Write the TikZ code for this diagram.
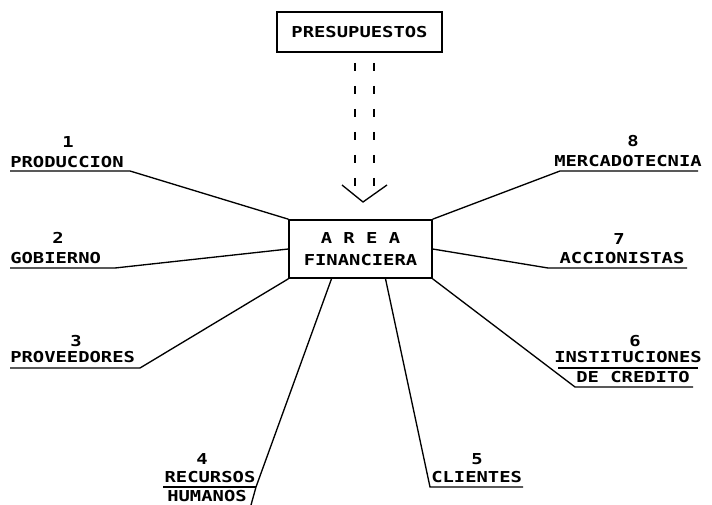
\documentclass[tikz,border=0pt]{standalone}
\usepackage{fontspec}
\newfontfamily\dotfont{DejaVu Sans Mono Bold}[FakeStretch=1.25]
\usetikzlibrary{calc}
\tikzset{
  entity/.style={font=\dotfont\fontsize{11.3}{16.5}\selectfont, inner sep=0pt},
  frame/.style={draw=black, line width=1.2pt, inner sep=0pt, align=center, font=\dotfont\fontsize{11.3}{16.5}\selectfont},
  link/.style={line width=1pt, line join=miter},
  flow/.style={line width=1pt, dash pattern=on 6pt off 11.25pt}
}
\begin{document}
\begin{tikzpicture}[x=0.75pt, y=-0.75pt]
  \useasboundingbox (0,0) rectangle (712,505);
  \node[frame, minimum width=123.75pt, minimum height=30pt] (pres) at (359.5,32) {PRESUPUESTOS};
  \node[frame, minimum width=107pt, minimum height=43.5pt] (area) at (360.5,249) {A R E A\\FINANCIERA};
  % numbers and names
  \node[entity] (n1) at (68,142) {1};
  \node[entity, anchor=west] (produccion) at (10,162) {PRODUCCION};
  \node[entity] (n2) at (58,238) {2};
  \node[entity, anchor=west] (gobierno) at (10,258) {GOBIERNO};
  \node[entity] (n3) at (76,341) {3};
  \node[entity, anchor=west] (proveedores) at (10,357) {PROVEEDORES};
  \node[entity] (n4) at (202,459) {4};
  \node[entity] (recursos) at (210,477) {RECURSOS};
  \node[entity] (humanos) at (207,496) {HUMANOS};
  \node[entity] (n5) at (477,459) {5};
  \node[entity, anchor=west] (clientes) at (431,477) {CLIENTES};
  \node[entity] (n6) at (635,341) {6};
  \node[entity] (instituciones) at (628,357) {INSTITUCIONES};
  \node[entity] (credito) at (633,377) {DE CREDITO};
  \node[entity] (n7) at (619,239) {7};
  \node[entity] (accionistas) at (622,258) {ACCIONISTAS};
  \node[entity] (n8) at (633,141) {8};
  \node[entity] (mercado) at (628,161) {MERCADOTECNIA};
  % line ends
  \coordinate (k1) at (130,171); \coordinate (e1) at (10,171);
  \coordinate (k2) at (115,268); \coordinate (e2) at (10,268);
  \coordinate (k3) at (140,368); \coordinate (e3) at (10,368);
  \coordinate (k4) at (256,487); \coordinate (e4) at (251,505); \coordinate (u4) at (163,487);
  \coordinate (k5) at (430,487); \coordinate (e5) at (523,487);
  \coordinate (k6) at (575,387); \coordinate (e6) at (693,387);
  \coordinate (s6) at (558,368); \coordinate (t6) at (698,368);
  \coordinate (k7) at (548,268); \coordinate (e7) at (687,268);
  \coordinate (k8) at (560,171); \coordinate (e8) at (698,171);
  % budget flow
  \coordinate (d1) at (355,63); \coordinate (d2) at (374,63);
  \coordinate (f1) at (355,190); \coordinate (f2) at (374,190);
  \coordinate (vl) at (342,185); \coordinate (tip) at (363,202); \coordinate (vr) at (387,185);
  \draw[flow] (d1)--(f1); \draw[flow] (d2)--(f2);
  \draw[link] (vl)--(tip)--(vr);
  % connectors
  \draw[link] (area.north west)--(k1)--(e1);
  \draw[link] (area.west)--(k2)--(e2);
  \draw[link] (area.south west)--(k3)--(e3);
  \draw[link] ($(area.south)+(-29,0)$)--(k4)--(e4); \draw[link] (k4)--(u4);
  \draw[link] ($(area.south)+(25,0)$)--(k5)--(e5);
  \draw[link] (area.south east)--(k6)--(e6); \draw[link] (s6)--(t6);
  \draw[link] (area.east)--(k7)--(e7);
  \draw[link] (area.north east)--(k8)--(e8);
\end{tikzpicture}
\end{document}
